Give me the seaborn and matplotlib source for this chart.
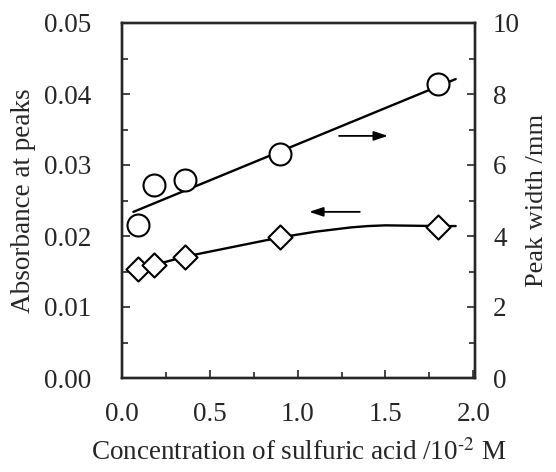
import numpy as np
import pandas as pd
import matplotlib
matplotlib.use("Agg")
import matplotlib.pyplot as plt
import seaborn as sns

# ---------------------------------------------------------------------------
# Data
# ---------------------------------------------------------------------------
conc = [0.09, 0.18, 0.36, 0.90, 1.80]                 # 10^-2 M
absorbance = [0.0153, 0.0159, 0.0171, 0.0198, 0.0212]  # left axis
peak_width = [4.31, 5.44, 5.58, 6.31, 8.28]            # right axis, mm

# fitted straight line through the peak widths
fit_x = [0.065, 1.90]
fit_y = [4.68, 8.42]

# smooth guide curve through the absorbance points
curve_x = [0.09, 0.18, 0.36, 0.90, 1.00, 1.10, 1.20, 1.30, 1.40, 1.50, 1.80, 1.90]
curve_y = [0.0153, 0.0159, 0.0171, 0.0198, 0.0202, 0.0206, 0.0209, 0.0212,
           0.0214, 0.0215, 0.0214, 0.0214]

df_abs = pd.DataFrame({"conc": conc, "abs": absorbance})
df_pw = pd.DataFrame({"conc": conc, "pw": peak_width})

# ---------------------------------------------------------------------------
# Style
# ---------------------------------------------------------------------------
sns.set_style("ticks")
plt.rcParams["font.family"] = ["Liberation Serif", "DejaVu Serif"]
plt.rcParams["mathtext.fontset"] = "stix"

fig = plt.figure(figsize=(5.56, 4.72), dpi=100)
ax = fig.add_axes([122 / 556, 1 - 378 / 472, 353 / 556, 355 / 472])
ax2 = ax.twinx()

# absorbance (left axis): diamonds + curve
sns.lineplot(x=curve_x, y=curve_y, ax=ax, color="black", linewidth=1.7)
sns.scatterplot(data=df_abs, x="conc", y="abs", ax=ax, marker="D", s=150,
                facecolor="white", edgecolor="black", linewidth=1.5, zorder=3)

# peak width (right axis): circles + line
sns.lineplot(x=fit_x, y=fit_y, ax=ax2, color="black", linewidth=1.7)
sns.scatterplot(data=df_pw, x="conc", y="pw", ax=ax2, marker="o", s=250,
                facecolor="white", edgecolor="black", linewidth=1.5, zorder=3)

# arrows pointing at the respective axes
ax2.annotate("", xy=(1.53, 6.82), xytext=(1.22, 6.82),
             arrowprops=dict(arrowstyle="-|>,head_length=0.6,head_width=0.2",
                             color="black", lw=1.3, mutation_scale=14))
ax.annotate("", xy=(1.05, 0.0234), xytext=(1.37, 0.0234),
            arrowprops=dict(arrowstyle="-|>,head_length=0.6,head_width=0.2",
                            color="black", lw=1.3, mutation_scale=14))

ax.set_xlim(0, 2.01)
ax.set_ylim(0, 0.05)
ax2.set_ylim(0, 10)

ax.set_xticks([0.0, 0.5, 1.0, 1.5, 2.0])
ax.set_xticks(np.arange(0.25, 2.0, 0.5), minor=True)
ax.set_xticklabels(["0.0", "0.5", "1.0", "1.5", "2.0"])
ax.set_yticks(np.arange(0, 0.051, 0.01))
ax.set_yticks(np.arange(0.005, 0.05, 0.01), minor=True)
ax.set_yticklabels([f"{v:.2f}" for v in np.arange(0, 0.051, 0.01)])
ax2.set_yticks(np.arange(0, 11, 2))
ax2.set_yticks(np.arange(1, 10, 2), minor=True)

for a in (ax, ax2):
    a.tick_params(which="both", direction="in", labelsize=19.5, width=1.2)
    a.tick_params(which="major", length=6)
    a.tick_params(which="minor", length=4)
    for sp in a.spines.values():
        sp.set_visible(True)
        sp.set_linewidth(1.7)
ax.tick_params(axis="x", pad=17)
ax.tick_params(axis="y", pad=22)
ax2.tick_params(axis="y", pad=13)

ax.set_xlabel("Concentration of sulfuric acid /10$^{\\text{-}2}$ M", fontsize=19.5,
              labelpad=9)
ax.set_ylabel("Absorbance at peaks", fontsize=19.5, labelpad=6)
ax2.set_ylabel("Peak width /mm", fontsize=19, labelpad=4)

fig.savefig("out.png", dpi=100)
plt.close(fig)
